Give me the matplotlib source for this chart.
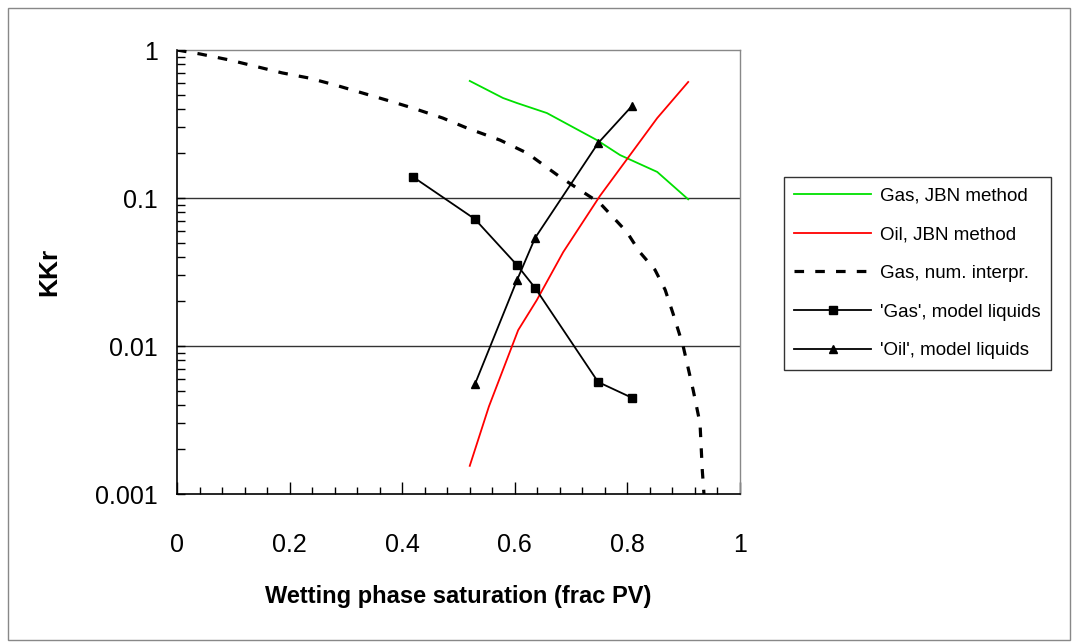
import matplotlib
matplotlib.use("Agg")
import matplotlib.pyplot as plt
from matplotlib.patches import Rectangle
from matplotlib.ticker import MultipleLocator, LogLocator, FixedFormatter, FixedLocator

# Gas, JBN method
gas_jbn_sw = [0.520, 0.579, 0.604, 0.657, 0.746, 0.787, 0.853, 0.908]
gas_jbn_kr = [0.618, 0.474, 0.438, 0.375, 0.246, 0.195, 0.150, 0.098]

# Oil, JBN method
oil_jbn_sw = [0.520, 0.554, 0.606, 0.639, 0.686, 0.751, 0.853, 0.908]
oil_jbn_kr = [0.00155, 0.0039, 0.0128, 0.0204, 0.0431, 0.103, 0.347, 0.608]

# Gas, numerical interpretation
gas_num_sw = [0.0, 0.041, 0.094, 0.187, 0.234, 0.281, 0.378, 0.419, 0.472, 0.515,
              0.574, 0.622, 0.680, 0.716, 0.751, 0.799, 0.822, 0.849, 0.867,
              0.881, 0.899, 0.917, 0.929, 0.933, 0.936]
gas_num_kr = [1.0, 0.94, 0.855, 0.70, 0.647, 0.58, 0.452, 0.405, 0.347, 0.297,
              0.246, 0.201, 0.139, 0.113, 0.0925, 0.0589, 0.0431, 0.0327, 0.024,
              0.0166, 0.010, 0.005, 0.003, 0.00145, 0.001]

# 'Gas', model liquids
gas_mod_sw = [0.419, 0.529, 0.604, 0.636, 0.748, 0.808]
gas_mod_kr = [0.139, 0.0721, 0.0352, 0.0247, 0.00571, 0.00447]

# 'Oil', model liquids
oil_mod_sw = [0.529, 0.604, 0.636, 0.748, 0.808]
oil_mod_kr = [0.0055, 0.0279, 0.0537, 0.235, 0.418]

x_ticks = [0, 0.2, 0.4, 0.6, 0.8, 1]
x_ticklabels = ["0", "0.2", "0.4", "0.6", "0.8", "1"]
y_ticks = [0.001, 0.01, 0.1, 1]
y_ticklabels = ["0.001", "0.01", "0.1", "1"]

plt.rcParams["font.family"] = ["Liberation Sans", "DejaVu Sans"]

fig = plt.figure(figsize=(10.73, 6.44), dpi=100)
ax = fig.add_axes([177 / 1073, 1 - 494 / 644, 563 / 1073, 444 / 644])

# horizontal gridlines at decades
for g in [0.1, 0.01]:
    ax.axhline(g, color="#333333", lw=1.0, zorder=1)

ax.plot(gas_jbn_sw, gas_jbn_kr, color="#00e000", lw=1.3, label="Gas, JBN method", zorder=3)
ax.plot(oil_jbn_sw, oil_jbn_kr, color="#ff0000", lw=1.3, label="Oil, JBN method", zorder=3)
ax.plot(gas_num_sw, gas_num_kr, color="black", lw=2.3, dashes=(3, 3.5),
        label="Gas, num. interpr.", zorder=4)
ax.plot(gas_mod_sw, gas_mod_kr, color="black", lw=1.3, marker="s", ms=6,
        label="'Gas', model liquids", zorder=5)
ax.plot(oil_mod_sw, oil_mod_kr, color="black", lw=1.3, marker="^", ms=6,
        label="'Oil', model liquids", zorder=5)

ax.set_yscale("log")
ax.set_xlim(0, 1)
ax.set_ylim(0.001, 1)

ax.xaxis.set_major_locator(FixedLocator(x_ticks))
ax.xaxis.set_major_formatter(FixedFormatter(x_ticklabels))
ax.xaxis.set_minor_locator(MultipleLocator(0.04))
ax.yaxis.set_major_locator(FixedLocator(y_ticks))
ax.yaxis.set_major_formatter(FixedFormatter(y_ticklabels))
ax.yaxis.set_minor_locator(LogLocator(base=10, subs=range(2, 10)))
ax.yaxis.set_minor_formatter(FixedFormatter([]))

ax.tick_params(axis="x", which="major", direction="in", length=9, width=1, labelsize=18, pad=28)
ax.tick_params(axis="x", which="minor", direction="in", length=5, width=1)
ax.tick_params(axis="y", which="major", direction="in", length=6, width=1, labelsize=18, pad=14)
ax.tick_params(axis="y", which="minor", direction="in", length=6, width=1)

for side in ["left", "bottom"]:
    ax.spines[side].set_color("black")
    ax.spines[side].set_linewidth(1.2)
for side in ["top", "right"]:
    ax.spines[side].set_color("#888888")
    ax.spines[side].set_linewidth(1.0)

ax.set_xlabel("Wetting phase saturation (frac PV)", fontsize=17, fontweight="bold", labelpad=20)
ax.set_ylabel("KKr", fontsize=19, fontweight="bold", labelpad=24)

leg = ax.legend(loc="upper left", bbox_to_anchor=(784 / 1073, 1 - 177 / 644),
                bbox_transform=fig.transFigure, borderaxespad=0, fontsize=13.5,
                frameon=True, fancybox=False, edgecolor="black", handlelength=4.1,
                numpoints=1, labelspacing=1.15, borderpad=0.55, handletextpad=0.45)
leg.get_frame().set_linewidth(1.0)

# outer border of the chart
fig.patches.append(Rectangle((8 / 1073, 4 / 644), 1062 / 1073, 632 / 644,
                             transform=fig.transFigure, fill=False,
                             edgecolor="#888888", lw=1.0))

fig.savefig("out.png", dpi=100)
